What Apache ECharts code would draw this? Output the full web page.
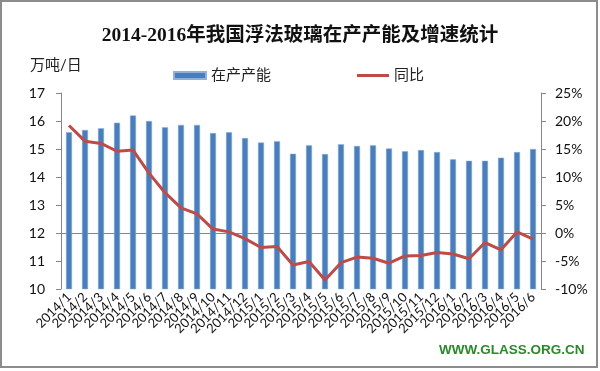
<!DOCTYPE html>
<html>
<head>
<meta charset="utf-8">
<script src="https://cdn.jsdelivr.net/npm/echarts@6/dist/echarts.min.js"></script>
<style>
html,body{margin:0;padding:0;background:#fff;}
#c{width:600px;height:371px;}
</style>
</head>
<body>
<div id="c"></div>
<script>
var categories = ['2014/1','2014/2','2014/3','2014/4','2014/5','2014/6','2014/7','2014/8','2014/9','2014/10','2014/11','2014/12',
  '2015/1','2015/2','2015/3','2015/4','2015/5','2015/6','2015/7','2015/8','2015/9','2015/10','2015/11','2015/12',
  '2016/1','2016/2','2016/3','2016/4','2016/5','2016/6'];
var capacity = [15.6,15.68,15.74,15.94,16.2,16.0,15.78,15.86,15.86,15.57,15.6,15.39,
  15.23,15.28,14.83,15.13,14.82,15.17,15.11,15.13,15.02,14.92,14.96,14.89,
  14.63,14.58,14.58,14.69,14.89,15.0];
var yoy = [19.2,16.4,16.0,14.6,14.8,10.7,7.2,4.5,3.4,0.7,0.2,-1.0,
  -2.6,-2.4,-5.7,-5.1,-8.4,-5.3,-4.3,-4.5,-5.4,-4.1,-4.0,-3.5,
  -3.75,-4.6,-1.7,-3.0,0.2,-1.1];
var seriesNames = ['在产产能','同比'];
var titleText = '2014-2016年我国浮法玻璃在产产能及增速统计';
var leftUnit = '万吨/日';
var watermark = 'WWW.GLASS.ORG.CN';

var sans = "Lato, 'Noto Sans CJK SC', sans-serif";
var chart = echarts.init(document.getElementById('c'));
chart.setOption({
  animation: false,
  backgroundColor: '#fff',
  title: {
    text: titleText, left: 'center', top: 21,
    textStyle: {fontFamily: "'Liberation Serif', 'Noto Sans CJK SC', serif", fontSize: 19.5, fontWeight: 'bold', color: '#111'}
  },
  legend: {
    left: 168, top: 63, itemGap: 86, itemWidth: 32, itemHeight: 7,
    textStyle: {fontFamily: sans, fontSize: 15, color: '#222'},
    data: [{name: seriesNames[0], icon: 'rect'}, {name: seriesNames[1], icon: 'path://M0,0h32v3h-32z'}]
  },
  graphic: [
    {type: 'rect', shape: {x: 1, y: 1, width: 596, height: 366}, style: {fill: 'none', stroke: '#8c8c8c', lineWidth: 2}, silent: true},
    {type: 'text', left: 30, top: 58, style: {text: leftUnit, font: "15px Lato, 'Noto Sans CJK SC'", fill: '#222'}},
    {type: 'text', left: 439, top: 343, style: {text: watermark, font: "bold 13.5px 'Liberation Sans', Arial", fill: '#2a8a2a'}}
  ],
  grid: {left: 61, right: 59, top: 93, bottom: 82, containLabel: false},
  xAxis: {
    type: 'category', data: categories,
    axisLine: {lineStyle: {color: '#868686'}},
    axisTick: {length: 5, lineStyle: {color: '#868686'}},
    axisLabel: {rotate: 45, interval: 0, fontFamily: sans, fontSize: 13, color: '#111', margin: 6}
  },
  yAxis: [
    {type: 'value', min: 10, max: 17, interval: 1,
      splitLine: {show: false},
      axisLine: {show: true, lineStyle: {color: '#868686'}},
      axisTick: {show: true, length: 5, lineStyle: {color: '#868686'}},
      axisLabel: {fontFamily: sans, fontSize: 14, color: '#111', margin: 16}
    },
    {type: 'value', min: -10, max: 25, interval: 5,
      splitLine: {show: false},
      axisLine: {show: true, lineStyle: {color: '#868686'}},
      axisTick: {show: true, length: 5, lineStyle: {color: '#868686'}},
      axisLabel: {fontFamily: sans, fontSize: 14, color: '#111', margin: 14, formatter: '{value}%'}
    }
  ],
  series: [
    {name: seriesNames[0], type: 'bar', data: capacity, barWidth: 6,
      itemStyle: {color: '#4a7ebb', borderColor: '#8fb0dc', borderWidth: 0.5}},
    {name: seriesNames[1], type: 'line', yAxisIndex: 1, data: yoy, symbol: 'none',
      lineStyle: {color: '#be4b48', width: 3}, itemStyle: {color: '#be4b48'}}
  ]
});
</script>
</body>
</html>
